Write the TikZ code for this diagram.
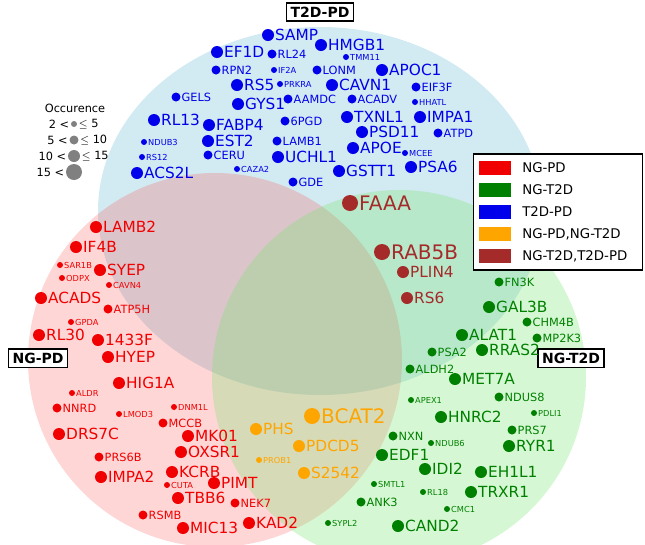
\documentclass[tikz,border=0pt]{standalone}
\usepackage{fontspec}
\setmainfont{DejaVu Sans}
\usetikzlibrary{positioning}

\definecolor{cBlue}{RGB}{0,0,235}
\definecolor{cRed}{RGB}{240,0,0}
\definecolor{cGreen}{RGB}{0,128,0}
\definecolor{cOrange}{RGB}{255,165,0}
\definecolor{cBrown}{RGB}{165,42,42}
\definecolor{cSky}{RGB}{173,216,230}
\definecolor{cLime}{RGB}{120,230,110}

% dot sizes and fonts: T tiny, S small, M medium, L large
\def\rT{4.5pt}\def\rS{6.75pt}\def\rM{9pt}\def\rL{12pt}
\def\fT{\fontsize{6.2}{7}\selectfont}
\def\fS{\fontsize{8.5}{9}\selectfont}
\def\fM{\fontsize{11.5}{12}\selectfont}
\def\fL{\fontsize{15}{16}\selectfont}

\tikzset{
  dot/.style={circle,inner sep=0pt},
  lab/.style={inner sep=0.5pt,anchor=west},
  setbox/.style={draw=black,line width=1.2pt,fill=white,font=\bfseries\fontsize{10.5}{12}\selectfont,inner sep=3pt},
  swatch/.style={minimum width=24pt,minimum height=11pt,inner sep=0pt}
}

\newcommand{\genes}[2]{%
  \foreach \n/\x/\y/\s in {#2} {
    \node[dot,fill=#1,minimum size=\csname r\s\endcsname] (d\n) at (\x,\y) {};
    \node[lab,text=#1,font=\csname f\s\endcsname] (t\n) at (d\n.east) {\n};
  }}

\begin{document}
\begin{tikzpicture}[x=0.75pt,y=-0.75pt]
\useasboundingbox (0,0) rectangle (645,544);

% set circles
\fill[cSky,opacity=0.55] (320,211) ellipse (222 and 184);
\fill[red!80,opacity=0.2] (215,360) circle (187);
\fill[cLime,opacity=0.3] (399,377) circle (187);

% set labels
\node[setbox] (sTP) at (320,12) {T2D-PD};
\node[setbox] (sNP) at (38,358) {NG-PD};
\node[setbox] (sNT) at (571,358) {NG-T2D};

\genes{cBlue}{SAMP/268/35/M, EF1D/217/52/M, RL24/272/54/S, HMGB1/321/45/M,
  TMM11/346/57/T, RPN2/216/70/S, IF2A/274/70/T, LONM/317/70/S, APOC1/382/70/M,
  RS5/237/85/M, PRKRA/280/84/T, CAVN1/332/85/M, EIF3F/416/87/S, GELS/176/97/S,
  GYS1/238/104/M, AAMDC/288/99/S, ACADV/352/99/S, HHATL/415/102/T,
  RL13/154/120/M, FABP4/209/125/M, 6PGD/285/121/S, TXNL1/347/117/M,
  IMPA1/420/117/M, NDUB3/144/142/T, EST2/208/141/M, LAMB1/277/141/S,
  PSD11/362/132/M, ATPD/438/133/S, RS12/142/157/T, CERU/208/155/S,
  UCHL1/278/157/M, APOE/353/148/M, MCEE/405/153/T, ACS2L/137/173/M,
  CAZA2/237/169/T, GSTT1/339/171/M, PSA6/411/167/M, GDE/293/182/S}

\genes{cBrown}{FAAA/350/203/L, RAB5B/382/252/L, PLIN4/403/272/M, RS6/407/298/M}

\genes{cOrange}{BCAT2/312/416/L, PHS/256/429/M, PDCD5/299/446/M,
  PROB1/259/460/T, S2542/304/473/M}

\genes{cGreen}{FN3K/499/282/S, GAL3B/489/307/M, CHM4B/527/322/S,
  ALAT1/462/335/M, MP2K3/537/338/S, PSA2/432/352/S, RRAS2/482/350/M,
  ALDH2/410/369/S, MET7A/455/379/M, APEX1/411/400/T, NDUS8/499/397/S,
  PDLI1/534/413/T, HNRC2/441/417/M, PRS7/512/430/S, NXN/393/436/S,
  NDUB6/431/443/T, RYR1/509/446/M, EDF1/382/455/M, IDI2/425/469/M,
  EH1L1/481/472/M, SMTL1/374/484/T, RL18/423/492/T, TRXR1/471/492/M,
  ANK3/361/502/S, CMC1/447/509/T, SYPL2/328/523/T, CAND2/398/526/M}

\genes{cRed}{LAMB2/96/227/M, IF4B/76/247/M, SAR1B/60/265/T, SYEP/100/270/M,
  ODPX/62/278/T, CAVN4/109/285/T, ACADS/41/298/M, ATP5H/108/309/S,
  GPDA/71/322/T, RL30/39/335/M, 1433F/98/340/M, HYEP/108/357/M,
  HIG1A/119/383/M, ALDR/72/393/T, NNRD/57/408/S, DNM1L/174/407/T,
  LMOD3/119/414/T, MCCB/163/423/S, DRS7C/59/434/M, MK01/188/436/M,
  OXSR1/181/452/M, PRS6B/99/457/S, IMPA2/101/477/M, KCRB/172/472/M,
  CUTA/167/485/T, PIMT/214/483/M, TBB6/178/498/M, NEK7/235/503/S,
  RSMB/143/515/S, MIC13/183/528/M, KAD2/249/523/M}

% occurrence legend
\node[font=\fS] (occ) at (75,108) {Occurence};
\foreach \k/\y/\s/\a/\b in {1/124/T/2 </{$\le$} 5, 2/140/S/5 </{$\le$} 10,
    3/156/M/10 </{$\le$} 15, 4/172/L/15 </{}} {
  \node[dot,fill=gray,minimum size=\csname r\s\endcsname] (o\k) at (74,\y) {};
  \node[font=\fS,anchor=east,inner sep=1pt] (oa\k) at (o\k.west) {\a};
  \node[font=\fS,anchor=west,inner sep=1pt] (ob\k) at (o\k.east) {\b};
}

% colour legend
\node[draw=black,line width=0.8pt,fill=white,minimum width=127pt,minimum height=87pt,inner sep=0pt] (leg) at (558,212) {};
\foreach \k/\c/\t in {1/cRed/NG-PD, 2/cGreen/NG-T2D, 3/cBlue/T2D-PD,
    4/cOrange/{NG-PD,NG-T2D}, 5/cBrown/{NG-T2D,T2D-PD}} {
  \node[swatch,fill=\c] (w\k) at (495,146+22*\k) {};
  \node[anchor=west,font=\fontsize{10}{11}\selectfont,inner sep=0pt] (l\k) at (522,146+22*\k) {\t};
}
\end{tikzpicture}
\end{document}
